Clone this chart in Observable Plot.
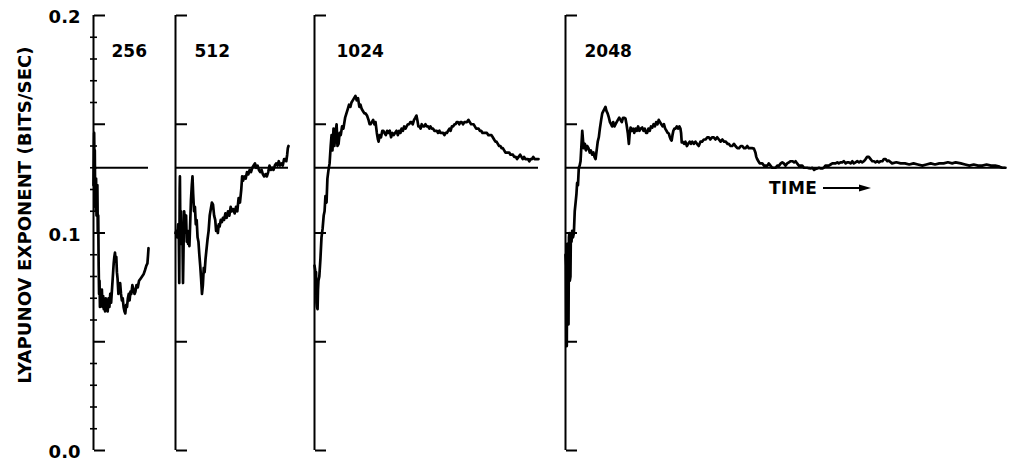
<!DOCTYPE html>
<html>
<head>
<meta charset="utf-8">
<script src="https://cdn.jsdelivr.net/npm/d3@7"></script>
<script src="https://cdn.jsdelivr.net/npm/@observablehq/plot@0.6"></script>
<style>
html, body { margin: 0; padding: 0; background: #fff; }
#chart { position: relative; width: 1011px; height: 463px; overflow: hidden; font-family: "DejaVu Sans", sans-serif; color: #000; }
#chart svg { position: absolute; top: 0; }
.ytitle { position: absolute; left: 25px; top: 215px; transform: translate(-50%, -50%) rotate(-90deg); white-space: nowrap; font-size: 18px; font-weight: bold; letter-spacing: 0.1px; line-height: 18px; }
.time { position: absolute; left: 769px; top: 179px; font-size: 17px; font-weight: bold; line-height: 18px; letter-spacing: 0.5px; }
</style>
</head>
<body>
<div id="chart">
  <div class="ytitle">LYAPUNOV EXPONENT (BITS/SEC)</div>
  <div class="time">TIME</div>
  <svg width="50" height="12" style="position:absolute;top:182px;left:823px"><line x1="0" y1="6" x2="40" y2="6" stroke="#000" stroke-width="2"/><polygon points="36,2.5 48,6 36,9.5" fill="#000"/></svg>
</div>
<script>
// ---- data ----
const panelLabels = ["256", "512", "1024", "2048"];
const panelLengths = [256, 512, 1024, 2048];
const referenceLevel = 0.13;
const majorTicks = [0, 0.05, 0.1, 0.15, 0.2];
const minorTicks = [0.01, 0.02, 0.03, 0.04, 0.06, 0.07, 0.08, 0.09, 0.11, 0.12, 0.13, 0.14, 0.16, 0.17, 0.18, 0.19];
const labelTicks = [0, 0.1, 0.2];

const p256_t = [0,2,3,5,6,8,9,11,12,14,15,17,18,20,22,24,26,28,30,33,36,39,42,45,48,51,54,57,60,63,66,70,74,78,82,86,90,94,97,100,103,106,109,112,116,120,124,128,132,136,140,144,148,152,156,160,164,168,172,176,181,186,191,195,200,206,212,219,226,233,240,246,251,254,256];
const p256_v = [0.122,0.140,0.146,0.128,0.138,0.112,0.120,0.110,0.125,0.108,0.121,0.118,0.122,0.100,0.108,0.085,0.072,0.078,0.066,0.073,0.068,0.074,0.066,0.071,0.065,0.068,0.064,0.070,0.065,0.069,0.064,0.070,0.066,0.072,0.068,0.074,0.080,0.086,0.089,0.091,0.087,0.089,0.082,0.079,0.072,0.075,0.077,0.072,0.069,0.070,0.066,0.064,0.063,0.067,0.066,0.070,0.072,0.069,0.073,0.072,0.076,0.074,0.072,0.073,0.076,0.075,0.078,0.079,0.080,0.081,0.083,0.085,0.086,0.090,0.093];

const p512_t = [0,4,8,12,15,17,19,20,22,25,28,31,34,36,39,42,45,48,51,54,57,60,63,66,70,74,77,80,84,88,92,96,100,104,108,112,116,120,124,128,132,136,140,145,150,155,160,165,170,175,180,184,188,192,196,200,205,210,215,220,226,232,238,244,250,256,262,268,274,280,286,292,298,302,306,312,318,324,330,336,342,348,354,360,366,372,378,384,390,396,402,408,414,420,426,432,438,444,450,456,462,468,474,480,486,492,498,502,506,509,512];
const p512_v = [0.100,0.101,0.098,0.104,0.099,0.077,0.120,0.126,0.100,0.110,0.095,0.104,0.077,0.090,0.110,0.107,0.102,0.108,0.096,0.101,0.095,0.098,0.094,0.103,0.115,0.122,0.126,0.118,0.110,0.112,0.104,0.106,0.098,0.096,0.090,0.085,0.079,0.072,0.076,0.084,0.082,0.088,0.092,0.097,0.101,0.108,0.111,0.114,0.113,0.108,0.106,0.101,0.103,0.100,0.104,0.103,0.106,0.105,0.107,0.106,0.109,0.107,0.110,0.108,0.112,0.110,0.111,0.109,0.112,0.110,0.116,0.114,0.120,0.126,0.124,0.126,0.125,0.128,0.127,0.129,0.128,0.130,0.131,0.132,0.130,0.131,0.129,0.128,0.129,0.127,0.126,0.127,0.126,0.128,0.131,0.129,0.130,0.129,0.131,0.132,0.131,0.133,0.131,0.132,0.131,0.134,0.134,0.133,0.136,0.139,0.140];

const p1024_t = [0,3,5,7,9,11,14,16,18,22,27,32,37,42,46,50,55,59,64,69,74,78,82,87,91,96,101,105,110,115,120,126,132,140,146,152,158,164,169,175,181,187,193,199,205,210,216,222,228,233,240,247,252,256,262,268,274,279,285,290,293,298,304,310,315,320,326,332,338,344,350,356,362,368,375,381,387,393,398,404,410,416,421,427,433,438,443,449,455,461,466,470,475,480,485,490,496,502,507,513,519,525,530,536,542,548,553,559,565,571,576,582,588,594,599,605,611,617,622,628,634,640,645,650,656,662,667,673,679,685,690,697,704,710,716,722,727,733,739,745,750,756,762,768,774,782,788,795,802,809,815,821,827,832,838,844,850,855,861,867,873,878,884,890,896,901,907,913,920,926,933,940,946,952,958,964,970,976,982,988,994,1000,1006,1012,1018,1024];
const p1024_v = [0.085,0.083,0.072,0.082,0.068,0.066,0.065,0.074,0.078,0.080,0.088,0.098,0.102,0.108,0.110,0.117,0.114,0.125,0.129,0.132,0.140,0.145,0.138,0.148,0.140,0.146,0.150,0.140,0.141,0.146,0.145,0.149,0.148,0.153,0.155,0.157,0.159,0.158,0.160,0.161,0.162,0.163,0.161,0.162,0.158,0.159,0.157,0.156,0.155,0.155,0.154,0.152,0.150,0.150,0.151,0.152,0.150,0.151,0.146,0.143,0.142,0.145,0.144,0.147,0.147,0.146,0.145,0.147,0.146,0.147,0.144,0.146,0.145,0.146,0.147,0.145,0.147,0.146,0.148,0.147,0.149,0.148,0.149,0.150,0.150,0.151,0.151,0.150,0.152,0.153,0.154,0.152,0.149,0.149,0.148,0.150,0.149,0.149,0.150,0.149,0.149,0.148,0.149,0.148,0.148,0.147,0.147,0.147,0.146,0.147,0.146,0.146,0.146,0.145,0.146,0.146,0.147,0.148,0.147,0.149,0.149,0.150,0.150,0.151,0.151,0.150,0.151,0.151,0.150,0.151,0.151,0.151,0.152,0.151,0.150,0.150,0.150,0.149,0.148,0.148,0.148,0.147,0.147,0.146,0.146,0.146,0.146,0.145,0.145,0.145,0.144,0.143,0.142,0.142,0.141,0.140,0.140,0.139,0.139,0.138,0.137,0.137,0.137,0.137,0.136,0.136,0.136,0.135,0.135,0.134,0.135,0.136,0.135,0.134,0.135,0.134,0.134,0.134,0.133,0.134,0.134,0.135,0.134,0.134,0.134,0.134,0.134];

const p2048_t = [0,2,4,6,8,10,12,14,16,18,20,23,25,28,31,35,39,43,47,51,54,58,62,66,70,74,78,82,85,90,95,101,107,113,118,124,130,135,140,145,150,155,160,166,171,176,181,186,191,196,202,207,212,217,222,228,233,238,244,250,256,262,268,274,279,284,290,295,299,303,309,315,320,326,332,338,344,350,357,363,369,375,380,386,392,398,404,410,416,422,428,434,440,446,452,458,464,470,476,481,486,490,494,498,502,507,512,518,524,530,535,538,541,545,552,558,565,571,578,584,590,597,605,612,620,628,636,644,652,660,667,674,682,690,698,706,714,722,730,738,746,754,760,768,776,784,791,800,808,816,823,831,838,846,853,860,868,877,884,888,892,898,904,910,916,924,932,940,946,954,962,970,978,986,994,1002,1009,1016,1024,1032,1040,1048,1056,1064,1071,1078,1086,1094,1102,1110,1118,1126,1133,1141,1149,1157,1164,1172,1180,1188,1195,1202,1210,1218,1226,1234,1242,1250,1257,1265,1272,1280,1288,1296,1304,1311,1319,1327,1335,1342,1350,1358,1366,1373,1381,1389,1397,1404,1412,1420,1428,1436,1443,1451,1459,1467,1475,1482,1490,1498,1504,1520,1540,1560,1580,1600,1620,1640,1661,1680,1700,1720,1740,1760,1780,1800,1816,1840,1860,1880,1900,1920,1940,1960,1980,2000,2020,2033,2048];
const p2048_v = [0.090,0.085,0.050,0.048,0.095,0.090,0.060,0.058,0.098,0.100,0.078,0.080,0.100,0.096,0.101,0.098,0.100,0.110,0.114,0.118,0.123,0.122,0.130,0.131,0.133,0.140,0.147,0.142,0.139,0.141,0.138,0.140,0.139,0.137,0.138,0.136,0.137,0.135,0.134,0.138,0.142,0.144,0.148,0.152,0.155,0.156,0.157,0.158,0.156,0.155,0.153,0.151,0.150,0.149,0.151,0.149,0.150,0.151,0.152,0.153,0.152,0.151,0.153,0.153,0.1526,0.150,0.146,0.141,0.146,0.1485,0.147,0.148,0.146,0.148,0.147,0.149,0.147,0.148,0.1485,0.147,0.148,0.146,0.146,0.148,0.147,0.149,0.1485,0.150,0.149,0.151,0.150,0.152,0.151,0.150,0.149,0.150,0.148,0.147,0.146,0.1457,0.144,0.143,0.1425,0.145,0.147,0.148,0.148,0.149,0.148,0.149,0.148,0.146,0.1416,0.142,0.141,0.142,0.140,0.141,0.142,0.141,0.142,0.141,0.142,0.141,0.140,0.142,0.142,0.143,0.143,0.144,0.144,0.143,0.144,0.144,0.143,0.144,0.143,0.142,0.143,0.142,0.142,0.141,0.141,0.140,0.140,0.141,0.140,0.139,0.139,0.140,0.140,0.139,0.139,0.140,0.139,0.139,0.139,0.1388,0.137,0.135,0.134,0.133,0.132,0.132,0.132,0.131,0.131,0.131,0.132,0.131,0.130,0.130,0.130,0.131,0.131,0.132,0.1325,0.132,0.131,0.132,0.1325,0.133,0.133,0.1325,0.133,0.132,0.131,0.131,0.131,0.130,0.130,0.130,0.1298,0.1297,0.130,0.129,0.1295,0.1297,0.130,0.1297,0.1297,0.130,0.131,0.131,0.131,0.1315,0.132,0.132,0.132,0.1325,0.132,0.1325,0.1325,0.133,0.132,0.1325,0.1325,0.132,0.133,0.132,0.1325,0.133,0.1325,0.133,0.1325,0.133,0.134,0.135,0.135,0.134,0.133,0.133,0.1325,0.133,0.1325,0.133,0.133,0.134,0.134,0.133,0.1333,0.132,0.1325,0.132,0.132,0.1315,0.132,0.1315,0.131,0.1315,0.132,0.1315,0.132,0.132,0.1325,0.132,0.1325,0.132,0.1315,0.131,0.1315,0.131,0.131,0.1315,0.131,0.131,0.1305,0.130,0.130];

const seriesT = [p256_t, p512_t, p1024_t, p2048_t];
const seriesV = [p256_v, p512_v, p1024_v, p2048_v];

// ---- layout (pixels) ----
const axisLeft = [93, 175, 314, 565];
const panelWidth = [55, 113, 224, 440];
const labelDx = [18, 19, 22, 19];

const chart = document.getElementById("chart");
panelLengths.forEach((N, k) => {
  const t = seriesT[k], v = seriesV[k];
  const data = t.map((ti, j) => ({t: ti, v: v[j]}));
  const mL = k === 0 ? 93 : 14;
  const mR = 6;
  const marks = [
    Plot.ruleX([0], {strokeWidth: 2}),
    Plot.axisY(majorTicks, {anchor: "right", frameAnchor: "left", tickSize: 11, fill: "none", strokeWidth: 2}),
    Plot.ruleY([referenceLevel], {strokeWidth: 2}),
    Plot.line(data, {x: "t", y: "v", strokeWidth: 2.7, strokeLinejoin: "round"}),
    Plot.text([panelLabels[k]], {frameAnchor: "top-left", dx: labelDx[k], dy: 29, textAnchor: "start", fontSize: 17, fontWeight: "bold"})
  ];
  if (k === 0) {
    marks.push(
      Plot.axisY(minorTicks, {anchor: "right", frameAnchor: "left", tickSize: 3, fill: "none", strokeWidth: 1.6}),
      Plot.axisY(minorTicks, {anchor: "left", tickSize: 3, fill: "none", strokeWidth: 1.6}),
      Plot.axisY(labelTicks, {anchor: "left", tickSize: 0, tickPadding: 13, tickFormat: d => d.toFixed(1), fontSize: 18, fontWeight: "bold", dy: 2, label: null})
    );
  }
  const svg = Plot.plot({
    width: mL + panelWidth[k] + mR,
    height: 463,
    marginLeft: mL,
    marginRight: mR,
    marginTop: 15,
    marginBottom: 13,
    x: {domain: [0, N], axis: null},
    y: {domain: [0, 0.2], axis: null},
    style: {background: "transparent", fontFamily: "DejaVu Sans", color: "#000", overflow: "visible"},
    marks
  });
  svg.style.left = (axisLeft[k] - mL) + "px";
  chart.appendChild(svg);
});
</script>
</body>
</html>
